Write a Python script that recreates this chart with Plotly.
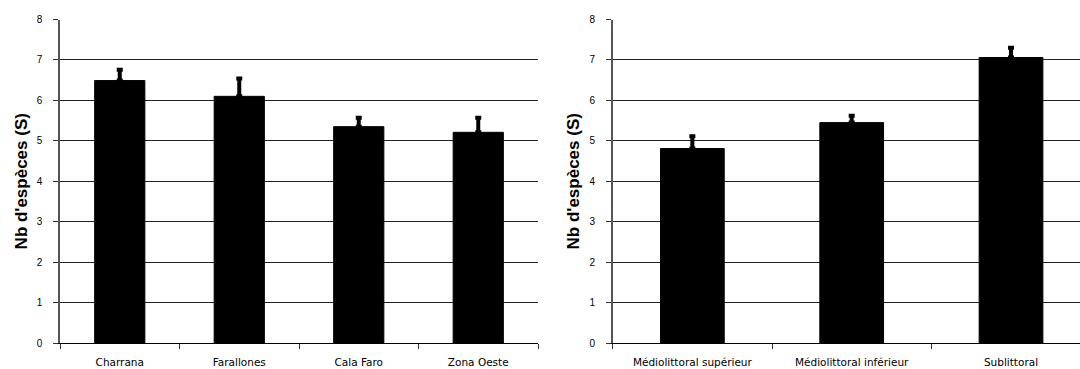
import plotly.graph_objects as go

# Site comparison (left panel)
sites = ["Charrana", "Farallones", "Cala Faro", "Zona Oeste"]
sites_mean = [6.49, 6.10, 5.35, 5.21]
sites_err = [0.27, 0.44, 0.22, 0.36]

# Intertidal level comparison (right panel)
levels = ["Médiolittoral supérieur", "Médiolittoral inférieur", "Sublittoral"]
levels_mean = [4.81, 5.45, 7.06]
levels_err = [0.30, 0.17, 0.24]

y_ticks = [0, 1, 2, 3, 4, 5, 6, 7, 8]
y_title = "Nb d'espèces (S)"

FONT = "Liberation Sans, Arial, sans-serif"
XFONT = "DejaVu Sans, Verdana, sans-serif"

fig = go.Figure()

def bar_trace(x, y, err, xaxis, yaxis, width):
    return go.Bar(
        x=x, y=y, xaxis=xaxis, yaxis=yaxis, width=width,
        marker=dict(color="black", line=dict(color="black", width=1)),
        error_y=dict(type="data", symmetric=False, array=err,
                     arrayminus=[0] * len(err),
                     color="black", thickness=4, width=3),
        showlegend=False, hoverinfo="x+y",
    )

fig.add_trace(bar_trace(sites, sites_mean, sites_err, "x", "y", 0.42))
fig.add_trace(bar_trace(levels, levels_mean, levels_err, "x2", "y2", 0.40))

ydom = [1 - 343 / 369, 1 - 19.5 / 369]

def yaxis_cfg(anchor):
    return dict(
        domain=ydom, anchor=anchor, range=[0, 8], tickvals=y_ticks,
        automargin=False,
        showgrid=True, gridcolor="#222222", gridwidth=1,
        showline=True, linecolor="#555555", linewidth=1.5,
        ticks="outside", ticklen=5, tickcolor="#333333",
        ticklabelstandoff=9,
        tickfont=dict(family=FONT, size=10, color="black"),
        zeroline=False,
        title=dict(text=y_title,
                   font=dict(family=FONT, size=17, color="black", weight="bold"),
                   standoff=5),
        fixedrange=True,
    )

def xaxis_cfg(domain, anchor, rng):
    return dict(
        domain=domain, anchor=anchor, type="category", range=rng,
        automargin=False,
        tickson="boundaries", ticks="outside", ticklen=5, tickcolor="#333333",
        ticklabelstandoff=9,
        showline=True, linecolor="black", linewidth=1,
        showgrid=False,
        tickfont=dict(family=XFONT, size=10.5, color="black"),
        fixedrange=True,
    )

fig.update_layout(
    width=1080, height=369,
    margin=dict(l=0, r=0, t=0, b=0),
    paper_bgcolor="white", plot_bgcolor="white",
    xaxis=xaxis_cfg([60 / 1080, 538 / 1080], "y", [-0.5, 3.5]),
    xaxis2=xaxis_cfg([612.7 / 1080, 1.0], "y2", [-0.5, 2.433]),
    yaxis=yaxis_cfg("x"),
    yaxis2=yaxis_cfg("x2"),
)

fig.write_html("out.html")
